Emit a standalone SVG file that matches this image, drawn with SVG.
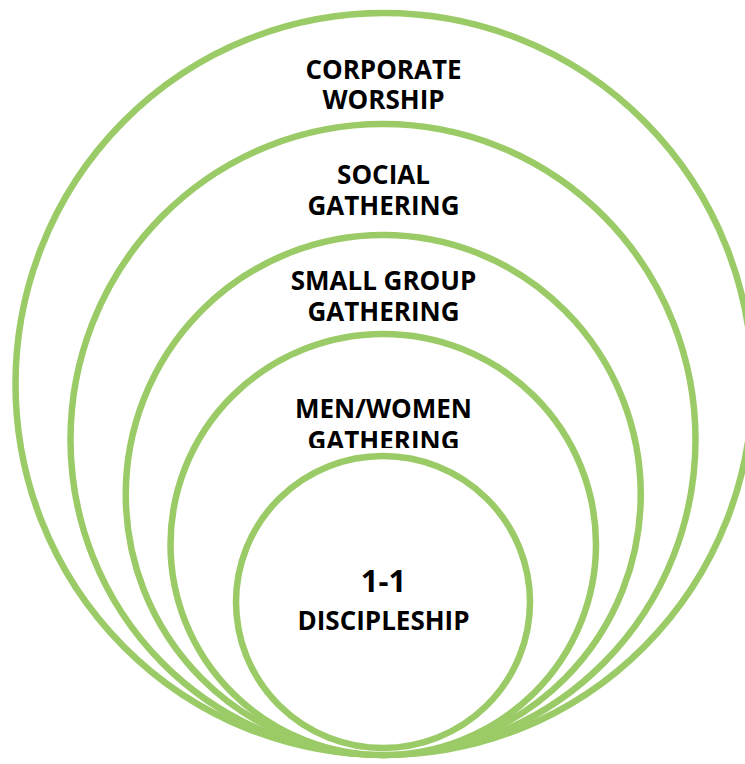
<svg xmlns="http://www.w3.org/2000/svg" width="745" height="764" viewBox="0 0 745 764">
<style>
.ring{fill:#ffffff;stroke:#9BCB67;stroke-width:6.5}
.lbl{font-family:"Open Sans","Liberation Sans",sans-serif;font-weight:bold;font-size:26px;fill:#000000;text-anchor:middle}
.big{font-size:31px}
</style>
<defs>
<clipPath id="cutMW"><rect x="0" y="0" width="745" height="448"/></clipPath>
</defs>
<rect x="0" y="0" width="745" height="764" fill="#ffffff"/>
<g id="corporate-worship">
<ellipse class="ring" cx="384" cy="384" rx="368.5" ry="371"/>
<text class="lbl" x="383.5" y="79">CORPORATE</text>
<text class="lbl" x="383.5" y="109">WORSHIP</text>
</g>
<g id="social-gathering">
<ellipse class="ring" cx="383" cy="439.5" rx="312.5" ry="315.5"/>
<text class="lbl" x="383.5" y="184">SOCIAL</text>
<text class="lbl" x="383.5" y="215">GATHERING</text>
</g>
<g id="small-group-gathering">
<ellipse class="ring" cx="383.25" cy="494.5" rx="257.5" ry="259.5"/>
<text class="lbl" x="383.5" y="290">SMALL GROUP</text>
<text class="lbl" x="383.5" y="321">GATHERING</text>
</g>
<g id="men-women-gathering">
<ellipse class="ring" cx="383.25" cy="544.5" rx="212.75" ry="210.5"/>
<text class="lbl" x="383.5" y="418">MEN/WOMEN</text>
<text class="lbl" x="383.5" y="450" clip-path="url(#cutMW)">GATHERING</text>
</g>
<g id="one-one-discipleship">
<ellipse class="ring" cx="383" cy="602" rx="147" ry="146"/>
<text class="lbl big" x="383.5" y="592">1-1</text>
<text class="lbl" x="383.5" y="630">DISCIPLESHIP</text>
</g>
<g id="connectors"/>
</svg>
